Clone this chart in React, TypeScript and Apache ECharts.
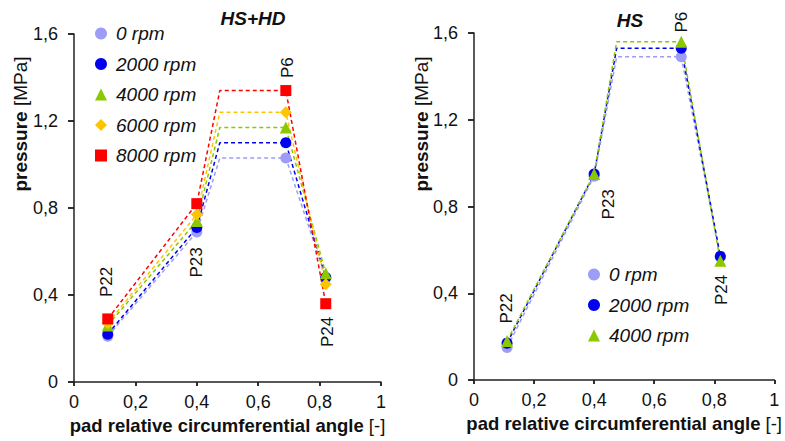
import React, { useEffect, useRef } from 'react';
import * as echarts from 'echarts';

// measurement positions (pad relative circumferential angle)
const sensorX = [0.11, 0.40, 0.69, 0.82];
const sensorNames = ['P22', 'P23', 'P6', 'P24'];
const plateauStartX = 0.475;

// HS+HD pressures [MPa] at P22, P23, P6, P24
const hsHd0 = [0.21, 0.69, 1.03, 0.48];
const hsHd2000 = [0.22, 0.71, 1.10, 0.48];
const hsHd4000 = [0.26, 0.74, 1.17, 0.50];
const hsHd6000 = [0.27, 0.77, 1.24, 0.45];
const hsHd8000 = [0.29, 0.82, 1.34, 0.36];

// HS pressures [MPa]
const hs0 = [0.15, 0.94, 1.49, 0.57];
const hs2000 = [0.17, 0.95, 1.53, 0.57];
const hs4000 = [0.18, 0.95, 1.56, 0.55];

// sensor label anchors
const labelLeftX = [0.107, 0.40, 0.694, 0.827];
const labelLeftY = [0.46, 0.55, 1.445, 0.23];
const labelRightX = [0.107, 0.448, 0.69, 0.825];
const labelRightY = [0.33, 0.81, 1.65, 0.415];

const FONT = 'Liberation Sans, Arial, sans-serif';
const AXIS_COLOR = '#222';
const TEXT_COLOR = '#111';

const speeds = [
  { name: '0 rpm', color: '#9d9df7', symbol: 'circle', size: 11 },
  { name: '2000 rpm', color: '#0000ee', symbol: 'circle', size: 11 },
  { name: '4000 rpm', color: '#8cc800', symbol: 'triangle', size: 12 },
  { name: '6000 rpm', color: '#ffc400', symbol: 'diamond', size: 12 },
  { name: '8000 rpm', color: '#ff0000', symbol: 'rect', size: 11 },
];

const fmt = (v: number) => String(+v.toFixed(1)).replace('.', ',');

function buildLine(values: number[]) {
  return [
    [sensorX[0], values[0]],
    [sensorX[1], values[1]],
    { value: [plateauStartX, values[2]], symbol: 'none' },
    [sensorX[2], values[2]],
    [sensorX[3], values[3]],
  ];
}

function makeAxes(gridIndex: number) {
  const x = {
    type: 'value', gridIndex, min: 0, max: 1, interval: 0.2,
    axisLine: { show: true, lineStyle: { color: AXIS_COLOR, width: 1.5 } },
    axisTick: { show: true, length: 4, lineStyle: { color: AXIS_COLOR, width: 1.5 } },
    axisLabel: { formatter: fmt, fontSize: 18, color: TEXT_COLOR, fontFamily: FONT, margin: 11 },
    splitLine: { show: false },
    name: '{b|pad relative circumferential angle} [-]',
    nameLocation: 'middle', nameGap: 33,
    nameTextStyle: {
      fontSize: 18.5, color: TEXT_COLOR, fontFamily: FONT,
      rich: { b: { fontSize: 18.5, fontWeight: 'bold', color: TEXT_COLOR, fontFamily: FONT } },
    },
  };
  const xInner = {
    type: 'value', gridIndex, min: 0, max: 1, interval: 0.2,
    axisLine: { show: false },
    axisTick: { show: true, inside: true, length: 4, lineStyle: { color: AXIS_COLOR, width: 1.5 } },
    axisLabel: { show: false }, splitLine: { show: false },
  };
  const y = {
    type: 'value', gridIndex, min: 0, max: 1.6, interval: 0.4,
    axisLine: { show: true, lineStyle: { color: AXIS_COLOR, width: 1.5 } },
    axisTick: { show: true, length: 6, lineStyle: { color: AXIS_COLOR, width: 1.5 } },
    axisLabel: { formatter: fmt, fontSize: 18, color: TEXT_COLOR, fontFamily: FONT, margin: 16 },
    splitLine: { show: false },
  };
  const yInner = {
    type: 'value', gridIndex, min: 0, max: 1.6, interval: 0.4,
    axisLine: { show: false },
    axisTick: { show: true, inside: true, length: 6, lineStyle: { color: AXIS_COLOR, width: 1.5 } },
    axisLabel: { show: false }, splitLine: { show: false },
  };
  return { x: [x, xInner], y: [y, yInner] };
}

function lineSeries(idx: number, values: number[], axisIndex: number) {
  const s = speeds[idx];
  return {
    type: 'line', name: s.name, xAxisIndex: axisIndex, yAxisIndex: axisIndex,
    data: buildLine(values),
    symbol: s.symbol, symbolSize: s.size, showSymbol: true,
    lineStyle: { color: s.color, width: 1.5, type: [4, 3] },
    itemStyle: { color: s.color },
    emphasis: { disabled: true }, silent: true,
  };
}

function labelSeries(xs: number[], ys: number[], axisIndex: number) {
  return {
    type: 'scatter', xAxisIndex: axisIndex, yAxisIndex: axisIndex,
    clip: false, silent: true, symbolSize: 0,
    itemStyle: { color: 'rgba(0,0,0,0)', opacity: 1 },
    data: sensorNames.map((n, i) => ({ name: n, value: [xs[i], ys[i]] })),
    label: {
      show: true, formatter: '{b}', rotate: 90, position: 'inside', opacity: 1,
      fontSize: 17, color: TEXT_COLOR, fontFamily: FONT,
    },
    emphasis: { disabled: true },
  };
}

export default function App() {
  const ref = useRef<HTMLDivElement>(null);
  useEffect(() => {
    const chart = echarts.init(ref.current!, null, { renderer: 'svg' });
    const a0 = makeAxes(0);
    const a1 = makeAxes(1);
    const legendItems = (n: number) =>
      speeds.slice(0, n).map((s) => ({ name: s.name, icon: s.symbol }));
    const legendText = { fontSize: 19, fontStyle: 'italic', color: TEXT_COLOR, fontFamily: FONT, padding: [0, 0, 0, 4] };
    const option = {
      animation: false,
      backgroundColor: '#ffffff',
      textStyle: { fontFamily: FONT },
      grid: [
        { left: 74, top: 34, width: 307, height: 348, containLabel: false },
        { left: 474, top: 33, width: 308, height: 347, containLabel: false },
      ],
      xAxis: [...a0.x, ...a1.x],
      yAxis: [...a0.y, ...a1.y],
      legend: [
        {
          orient: 'vertical', left: 90, top: 19, itemWidth: 12, itemHeight: 12, itemGap: 11.5,
          data: legendItems(5), textStyle: legendText, selectedMode: false,
        },
        {
          orient: 'vertical', left: 583, top: 260, itemWidth: 12, itemHeight: 12, itemGap: 11.5,
          data: legendItems(3), textStyle: legendText, selectedMode: false,
        },
      ],
      graphic: [
        {
          type: 'text', x: 253, y: 18,
          style: { text: 'HS+HD', font: `italic bold 19px ${FONT}`, fill: TEXT_COLOR, align: 'center', verticalAlign: 'middle' },
        },
        {
          type: 'text', x: 630, y: 20,
          style: { text: 'HS', font: `italic bold 19px ${FONT}`, fill: TEXT_COLOR, align: 'center', verticalAlign: 'middle' },
        },
        {
          type: 'text', x: 20, y: 124, rotation: Math.PI / 2,
          style: {
            text: '{b|pressure} [MPa]', fontSize: 19, fontFamily: FONT, fill: TEXT_COLOR,
            align: 'center', verticalAlign: 'middle',
            rich: { b: { fontSize: 19, fontWeight: 'bold', fontFamily: FONT, fill: TEXT_COLOR } },
          },
        },
        {
          type: 'text', x: 421, y: 124, rotation: Math.PI / 2,
          style: {
            text: '{b|pressure} [MPa]', fontSize: 19, fontFamily: FONT, fill: TEXT_COLOR,
            align: 'center', verticalAlign: 'middle',
            rich: { b: { fontSize: 19, fontWeight: 'bold', fontFamily: FONT, fill: TEXT_COLOR } },
          },
        },
      ],
      series: [
        lineSeries(0, hsHd0, 0),
        lineSeries(1, hsHd2000, 0),
        lineSeries(2, hsHd4000, 0),
        lineSeries(3, hsHd6000, 0),
        lineSeries(4, hsHd8000, 0),
        labelSeries(labelLeftX, labelLeftY, 0),
        lineSeries(0, hs0, 2),
        lineSeries(1, hs2000, 2),
        lineSeries(2, hs4000, 2),
        labelSeries(labelRightX, labelRightY, 2),
      ],
    };
    chart.setOption(option as any);
    return () => chart.dispose();
  }, []);
  return (
    <div
      ref={ref}
      style={{ position: 'fixed', left: 0, top: 0, width: 785, height: 441, background: '#fff' }}
    />
  );
}
